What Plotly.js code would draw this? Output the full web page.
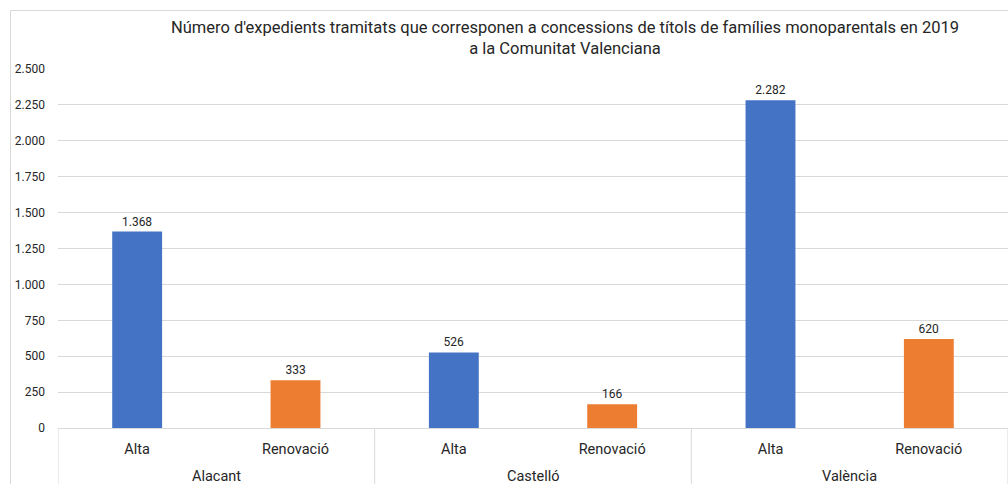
<!DOCTYPE html>
<html><head><meta charset="utf-8">
<script src="https://cdn.plot.ly/plotly-3.0.1.min.js"></script>
<style>html,body{margin:0;padding:0;background:#fff;}#chart{width:1008px;height:484px;}</style>
</head><body><div id="chart"></div>
<script>
const groups = ["Alacant", "Castelló", "València"];
const types = ["Alta", "Renovació"];
const values = [1368, 333, 526, 166, 2282, 620];
const colors = ["#4472C4", "#ED7D31"];
const yTicks = [0, 250, 500, 750, 1000, 1250, 1500, 1750, 2000, 2250, 2500];

const xs = values.map((v, i) => i);
const labels = values.map((v, i) => types[i % 2]);
const barColors = values.map((v, i) => colors[i % 2]);

const L = 58, R = 0, T = 69, B = 56, W = 1008, H = 484;
const pw = W - L - R, ph = H - T - B;
const px2x = p => (p - L) / pw;
const py2y = p => (H - B - p) / ph;

const shapes = [];
// chart border
shapes.push({type: 'rect', xref: 'paper', yref: 'paper', x0: px2x(10.5), x1: px2x(1100), y0: py2y(600), y1: py2y(10.5), line: {color: '#d9d9d9', width: 1}, layer: 'below'});
// group separators
for (let g = 0; g <= groups.length; g++) {
  shapes.push({type: 'line', xref: 'x', yref: 'paper', x0: g * 2 - 0.5, x1: g * 2 - 0.5, y0: 0, y1: py2y(490), line: {color: '#d9d9d9', width: 1}});
}
const annotations = groups.map((g, i) => ({
  text: g, xref: 'x', yref: 'paper', x: i * 2 + 0.5, y: py2y(476), yanchor: 'middle', showarrow: false,
  font: {family: 'Roboto, sans-serif', size: 14.5, color: '#262626'}
}));

Plotly.newPlot('chart', [{
  type: 'bar', x: xs, y: values, width: 0.315,
  marker: {color: barColors},
  text: values, texttemplate: '%{y:,d}', textposition: 'outside', cliponaxis: false,
  textfont: {family: 'Roboto, sans-serif', size: 12, color: '#262626'},
  hoverinfo: 'none'
}], {
  width: W, height: H, margin: {l: L, r: R, t: T, b: B},
  separators: ',.',
  paper_bgcolor: '#fff', plot_bgcolor: '#fff',
  showlegend: false,
  title: {text: "Número d'expedients tramitats que corresponen a concessions de títols de famílies monoparentals en 2019<br>a la Comunitat Valenciana",
    xref: 'container', yref: 'container', x: 565 / W, xanchor: 'center', y: 1 - 33 / H, yanchor: 'middle',
    font: {family: 'Roboto, sans-serif', size: 16.5, color: '#262626'}},
  xaxis: {range: [-0.5, 5.5], tickvals: xs, ticktext: labels, showgrid: false, zeroline: false,
    showline: true, linecolor: '#d9d9d9', linewidth: 1, ticks: '', ticklabelstandoff: 8,
    tickfont: {family: 'Roboto, sans-serif', size: 14.5, color: '#262626'}},
  yaxis: {range: [0, 2500], tickvals: yTicks, tickformat: ',d', showgrid: true, gridcolor: '#d9d9d9',
    zeroline: false, showline: false, ticks: '', ticklabelstandoff: 12,
    tickfont: {family: 'Roboto, sans-serif', size: 12, color: '#262626'}},
  shapes: shapes, annotations: annotations
}, {staticPlot: true});
</script></body></html>
